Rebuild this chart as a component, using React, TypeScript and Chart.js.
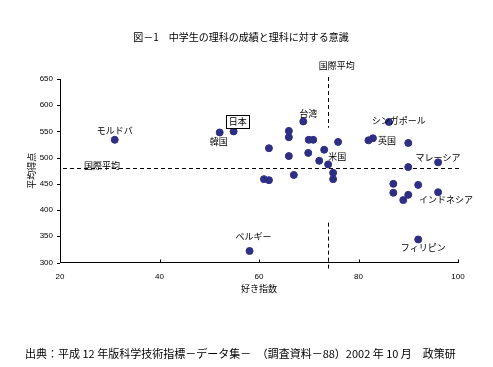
import { useEffect, useRef } from "react";
import { Chart, registerables } from "chart.js";

Chart.register(...registerables);

const countryNames = [
  "日本", "韓国", "モルドバ", "ベルギー", "台湾", "", "", "", "", "", "", "", "", "", "", "米国", "", "", "", "", "",
  "シンガポール", "", "英国", "", "マレーシア", "", "", "", "", "", "", "インドネシア", "フィリピン",
];
const likeIndex = [
  54.9, 52.1, 31.0, 58.1, 68.9, 66.0, 66.0, 70.0, 70.9, 75.9, 62.0, 66.0, 69.9, 73.1, 72.1, 73.9, 67.0, 61.0, 62.0, 74.9, 74.9,
  86.1, 82.0, 82.9, 90.0, 96.0, 90.0, 87.0, 92.0, 87.0, 90.0, 89.0, 96.0, 92.0,
];
const avgScore = [
  550, 548, 534, 322, 569, 551, 539, 534, 534, 530, 518, 503, 509, 515, 494, 487, 467, 459, 457, 471, 459,
  568, 533, 537, 528, 491, 482, 450, 448, 433, 429, 419, 434, 344,
];
const xTickValues = [20, 40, 60, 80, 100];
const yTickValues = [300, 350, 400, 450, 500, 550, 600, 650];
const intlAvgScore = 480;
const intlAvgLike = 73.8;
const intlAvgLabel = "国際平均";
const titleText = "図－1　中学生の理科の成績と理科に対する意識";
const xTitle = "好き指数";
const yTitle = "平均得点";
const sourceText = "出典：平成 12 年版科学技術指標－データ集－　（調査資料－88）2002 年 10 月　政策研";

const CJK = '"Noto Sans CJK JP", sans-serif';

// label placement (style only): offset of text centre from point centre
const labelOffsets: Record<string, [number, number]> = {
  "日本": [4, -10],
  "韓国": [-1, 9],
  "モルドバ": [0, -9],
  "ベルギー": [4, -14],
  "台湾": [5, -8],
  "米国": [9, -8],
  "シンガポール": [10, -1],
  "英国": [14, 2],
  "マレーシア": [0, -5],
  "インドネシア": [8, 7],
  "フィリピン": [5, 8],
};

const decorPlugin = {
  id: "decor",
  beforeDatasetsDraw(chart: any) {
    const { ctx, scales, chartArea } = chart;
    const xs = scales.x;
    const ys = scales.y;
    ctx.save();
    ctx.strokeStyle = "#000";
    ctx.lineWidth = 1;
    ctx.setLineDash([4, 3]);
    const hy = Math.round(ys.getPixelForValue(intlAvgScore)) + 0.5;
    ctx.beginPath();
    ctx.moveTo(chartArea.left + 3, hy);
    ctx.lineTo(chartArea.right + 2, hy);
    ctx.stroke();
    const vx = Math.round(xs.getPixelForValue(intlAvgLike)) + 0.5;
    ctx.beginPath();
    ctx.moveTo(vx, chartArea.top - 2);
    ctx.lineTo(vx, ys.getPixelForValue(557));
    ctx.moveTo(vx, ys.getPixelForValue(376));
    ctx.lineTo(vx, chartArea.bottom + 6);
    ctx.stroke();
    ctx.setLineDash([]);
    ctx.beginPath();
    yTickValues.forEach((v) => {
      const y = Math.round(ys.getPixelForValue(v)) + 0.5;
      ctx.moveTo(chartArea.left - 3, y);
      ctx.lineTo(chartArea.left, y);
    });
    xTickValues.forEach((v) => {
      const x = Math.round(xs.getPixelForValue(v)) + 0.5;
      ctx.moveTo(x, chartArea.bottom);
      ctx.lineTo(x, chartArea.bottom - 3);
    });
    ctx.stroke();
    ctx.restore();
  },
  afterDatasetsDraw(chart: any) {
    const { ctx, scales, chartArea } = chart;
    const xs = scales.x;
    const ys = scales.y;
    ctx.save();
    ctx.fillStyle = "#000";
    ctx.textAlign = "center";
    ctx.textBaseline = "middle";
    ctx.font = `10px ${CJK}`;
    ctx.fillText(titleText, 241, 37);
    ctx.font = `9px ${CJK}`;
    const vx = xs.getPixelForValue(intlAvgLike);
    ctx.fillText(intlAvgLabel, vx + 9, chartArea.top - 13);
    const hy = ys.getPixelForValue(intlAvgScore);
    ctx.fillText(intlAvgLabel, chartArea.left + 42, hy - 2.5);
    countryNames.forEach((name, i) => {
      if (!name) return;
      const off = labelOffsets[name] || [0, -9];
      const px = xs.getPixelForValue(likeIndex[i]) + off[0];
      const py = ys.getPixelForValue(avgScore[i]) + off[1];
      if (name === "日本") {
        const w = ctx.measureText(name).width + 5;
        ctx.fillStyle = "#fff";
        ctx.fillRect(px - w / 2, py - 6.5, w, 13);
        ctx.strokeStyle = "#000";
        ctx.lineWidth = 1;
        ctx.strokeRect(Math.round(px - w / 2) + 0.5, Math.round(py - 6.5) + 0.5, Math.round(w), 13);
        ctx.fillStyle = "#000";
      }
      ctx.fillText(name, px, py);
    });
    ctx.fillText(xTitle, (chartArea.left + chartArea.right) / 2, chartArea.bottom + 26);
    ctx.save();
    ctx.translate(32, (chartArea.top + chartArea.bottom) / 2);
    ctx.rotate(-Math.PI / 2);
    ctx.fillText(yTitle, 0, 0);
    ctx.restore();
    ctx.font = `11px ${CJK}`;
    ctx.textAlign = "left";
    ctx.fillText(sourceText, 25, 354);
    ctx.restore();
  },
};

export default function App() {
  const canvasRef = useRef<HTMLCanvasElement | null>(null);

  useEffect(() => {
    if (!canvasRef.current) return;
    const chart = new Chart(canvasRef.current, {
      type: "scatter",
      data: {
        datasets: [
          {
            data: likeIndex.map((x, i) => ({ x, y: avgScore[i] })),
            backgroundColor: "#2e2e85",
            borderColor: "#2e2e85",
            pointRadius: 3.5,
            pointHoverRadius: 3.5,
          },
        ],
      },
      options: {
        animation: false,
        responsive: false,
        maintainAspectRatio: false,
        events: [],
        layout: { padding: { left: 0, top: 79, right: 35, bottom: 0 } },
        plugins: {
          legend: { display: false },
          tooltip: { enabled: false },
          title: { display: false },
        },
        scales: {
          x: {
            type: "linear",
            min: 20,
            max: 100,
            afterFit: (s: any) => {
              s.height = 104.5;
            },
            afterBuildTicks: (s: any) => {
              s.ticks = xTickValues.map((v) => ({ value: v }));
            },
            grid: { display: false, drawTicks: false },
            border: { display: true, color: "#000", width: 1 },
            ticks: {
              color: "#000",
              padding: 9,
              font: { family: "'Liberation Sans', Arial, sans-serif", size: 8 },
            },
          },
          y: {
            type: "linear",
            min: 300,
            max: 650,
            afterFit: (s: any) => {
              s.width = 60;
            },
            afterBuildTicks: (s: any) => {
              s.ticks = yTickValues.map((v) => ({ value: v }));
            },
            grid: { display: false, drawTicks: false },
            border: { display: true, color: "#000", width: 1 },
            ticks: {
              color: "#000",
              padding: 7,
              font: { family: "'Liberation Sans', Arial, sans-serif", size: 8 },
            },
          },
        },
      },
      plugins: [decorPlugin],
    });
    return () => chart.destroy();
  }, []);

  return (
    <div style={{ position: "fixed", left: 0, top: 0, width: 493, height: 367, background: "#fff" }}>
      <canvas ref={canvasRef} width={493} height={367} style={{ width: 493, height: 367, display: "block" }} />
    </div>
  );
}
